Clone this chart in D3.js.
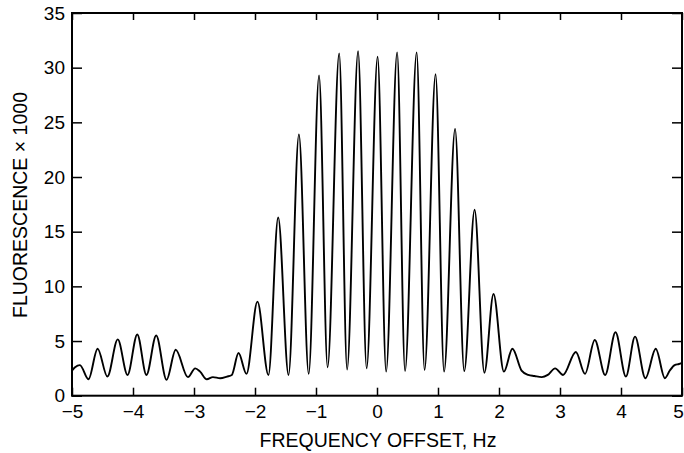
<!DOCTYPE html>
<html>
<head>
<meta charset="utf-8">
<script src="https://cdn.jsdelivr.net/npm/d3@7"></script>
<style>
  html, body { margin: 0; padding: 0; background: #fff; }
  svg { display: block; }
</style>
</head>
<body>
<svg id="chart" width="684" height="453"></svg>
<script>
// ---- Data ----
const frequencyHz = [
  -5.00, -4.95, -4.87, -4.73, -4.58, -4.42, -4.25, -4.09, -3.93, -3.78,
  -3.62, -3.45, -3.30, -3.10, -2.98, -2.90, -2.79, -2.69, -2.57, -2.46,
  -2.38, -2.27, -2.14, -1.96, -1.78, -1.62, -1.45, -1.28, -1.12, -0.95,
  -0.81, -0.62, -0.49, -0.31, -0.17, 0.01, 0.15, 0.33, 0.46, 0.65,
  0.78, 0.96, 1.10, 1.28, 1.43, 1.60, 1.76, 1.91, 2.08, 2.22,
  2.37, 2.48, 2.58, 2.70, 2.80, 2.92, 3.05, 3.26, 3.41, 3.57,
  3.74, 3.91, 4.08, 4.23, 4.40, 4.57, 4.72, 4.80, 4.88, 4.95, 5.00
];
const fluorescence = [
  2.3, 2.6, 2.8, 1.5, 4.3, 1.75, 5.15, 1.9, 5.6, 1.9,
  5.5, 1.45, 4.2, 1.7, 2.5, 2.2, 1.5, 1.7, 1.6, 1.75,
  1.9, 3.9, 2.0, 8.6, 1.9, 16.3, 1.9, 23.9, 2.0, 29.3,
  2.6, 31.3, 2.4, 31.5, 2.5, 31.0, 2.2, 31.4, 2.25, 31.4,
  2.35, 29.4, 2.2, 24.4, 2.25, 17.0, 2.1, 9.3, 2.2, 4.3,
  2.3, 1.9, 1.8, 1.7, 1.9, 2.5, 1.9, 4.0, 2.0, 5.1,
  1.9, 5.8, 1.75, 5.4, 1.6, 4.3, 1.6, 2.3, 2.8, 2.9, 3.0
];
const xTicks = [-5, -4, -3, -2, -1, 0, 1, 2, 3, 4, 5];
const yTicks = [0, 5, 10, 15, 20, 25, 30, 35];
const xTitle = "FREQUENCY OFFSET, Hz";
const yTitle = "FLUORESCENCE \u00d7 1000";

// ---- Layout ----
const svg = d3.select("#chart");
const mLeft = 72, mRight = 682, mTop = 13, mBottom = 395.7;
const font = "'Liberation Sans', Arial, Helvetica, sans-serif";

const x = d3.scaleLinear().domain([-5, 5]).range([mLeft, mRight]);
const y = d3.scaleLinear().domain([0, 35]).range([mBottom, mTop]);

const data = frequencyHz.map((f, i) => ({ f, v: fluorescence[i] }));

const line = d3.line()
  .x(d => x(d.f))
  .y(d => y(d.v))
  .curve(d3.curveMonotoneX);

svg.append("path")
  .datum(data)
  .attr("d", line)
  .attr("fill", "none")
  .attr("stroke", "#000")
  .attr("stroke-width", 1.9)
  .attr("stroke-linejoin", "round");

function styleAxis(g, showLabels) {
  g.select(".domain").remove();
  g.selectAll(".tick line").attr("stroke", "#000").attr("stroke-width", 1.5);
  g.selectAll(".tick text")
    .attr("fill", "#000")
    .style("font-family", font)
    .style("font-size", "19px");
  if (!showLabels) g.selectAll(".tick text").remove();
}

svg.append("g")
  .attr("transform", `translate(0,${mBottom})`)
  .call(d3.axisBottom(x).tickValues(xTicks).tickSizeInner(-8).tickSizeOuter(0).tickPadding(9))
  .call(g => styleAxis(g, true))
  .call(g => g.selectAll(".tick text").filter(d => d === 5).attr("x", -4));

svg.append("g")
  .attr("transform", `translate(0,${mTop})`)
  .call(d3.axisTop(x).tickValues(xTicks).tickSizeInner(-7).tickSizeOuter(0))
  .call(g => styleAxis(g, false));

svg.append("g")
  .attr("transform", `translate(${mLeft},0)`)
  .call(d3.axisLeft(y).tickValues(yTicks).tickSizeInner(-10).tickSizeOuter(0).tickPadding(7))
  .call(g => styleAxis(g, true));

svg.append("g")
  .attr("transform", `translate(${mRight},0)`)
  .call(d3.axisRight(y).tickValues(yTicks).tickSizeInner(-10).tickSizeOuter(0))
  .call(g => styleAxis(g, false));

svg.append("rect")
  .attr("x", mLeft).attr("y", mTop)
  .attr("width", mRight - mLeft).attr("height", mBottom - mTop)
  .attr("fill", "none")
  .attr("stroke", "#000")
  .attr("stroke-width", 2);

svg.append("text")
  .attr("x", (mLeft + mRight) / 2 + 1)
  .attr("y", 447)
  .attr("text-anchor", "middle")
  .style("font-family", font)
  .style("font-size", "19.5px")
  .attr("fill", "#000")
  .text(xTitle);

svg.append("text")
  .attr("transform", "translate(26.5,205) rotate(-90)")
  .attr("text-anchor", "middle")
  .style("font-family", font)
  .style("font-size", "19.5px")
  .attr("fill", "#000")
  .text(yTitle);
</script>
</body>
</html>
